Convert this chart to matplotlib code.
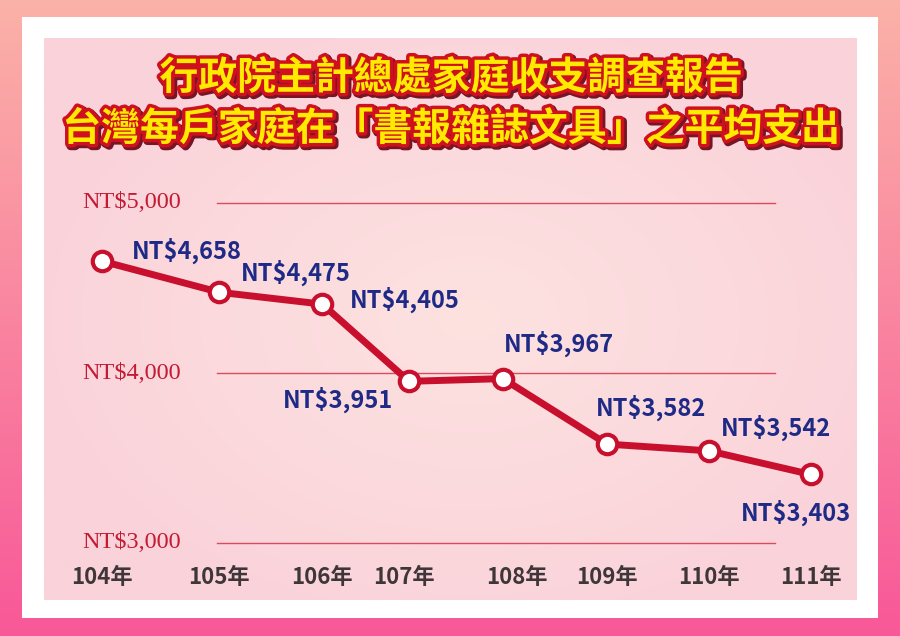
import numpy as np
import matplotlib
matplotlib.use("Agg")
import matplotlib.pyplot as plt
from matplotlib.patches import Rectangle
import matplotlib.patheffects as pe
from matplotlib.transforms import blended_transform_factory

# ---------------- data ----------------
years = ["104年", "105年", "106年", "107年", "108年", "109年", "110年", "111年"]
x_slots = [0.0, 1.15, 2.16, 3.01, 3.93, 4.95, 5.95, 6.95]   # uneven category spacing as in the source
values = [4658, 4475, 4405, 3951, 3967, 3582, 3542, 3403]
value_labels = ["NT$4,658", "NT$4,475", "NT$4,405", "NT$3,951",
                "NT$3,967", "NT$3,582", "NT$3,542", "NT$3,403"]
y_ticks = [3000, 4000, 5000]
y_tick_labels = ["NT$3,000", "NT$4,000", "NT$5,000"]
title_lines = ["行政院主計總處家庭收支調查報告",
               "台灣每戶家庭在「書報雜誌文具」之平均支出"]

# label placement (pixels offset from point, alignment)
label_offsets = [(30, 2, "left"), (22, 12, "left"), (28, -4, "left"), (-16, -26, "right"),
                 (1, 27, "left"), (-11, 28, "left"), (12, 15, "left"), (40, -46, "right")]
year_nudge = [0, 0, 0, -5, 14, 0, 0, 0]

W, H = 900, 636
fig = plt.figure(figsize=(W / 100, H / 100), dpi=100)

# ---------------- background decoration ----------------
bg = fig.add_axes([0, 0, 1, 1])
bg.set_xlim(0, W)
bg.set_ylim(H, 0)
bg.axis("off")
top = np.array([251, 178, 168]) / 255
bot = np.array([248, 88, 152]) / 255
t = np.linspace(0, 1, H)[:, None, None]
grad = top * (1 - t) + bot * t
bg.imshow(grad, extent=(0, W, H, 0), aspect="auto", zorder=0)
bg.add_patch(Rectangle((22, 17), 856, 601, facecolor="white", edgecolor="none", zorder=1))
# inner panel radial gradient
px0, px1, py0, py1 = 44, 857, 38, 600
xx, yy = np.meshgrid(np.linspace(px0, px1, 300), np.linspace(py0, py1, 220))
r = np.sqrt(((xx - 470) / 480) ** 2 + ((yy - 320) / 340) ** 2)
r = np.clip(r, 0, 1)[..., None]
c_in = np.array([253, 226, 224]) / 255
c_out = np.array([250, 210, 218]) / 255
panel = c_in * (1 - r) + c_out * r
bg.imshow(panel, extent=(px0, px1, py1, py0), aspect="auto", zorder=2)

# ---------------- data axes ----------------
ax = fig.add_axes([0, 0, 1, 1], zorder=5)
ax.patch.set_alpha(0)
ax.axis("off")
unit = 102.0
x0px = 102.0
ax.set_xlim(-x0px / unit, (W - x0px) / unit)
y4000 = 373.0
scale = 0.17
ax.set_ylim(4000 - (H - y4000) / scale, 4000 + y4000 / scale)

red = "#C8102E"
for v, lab in zip(y_ticks, y_tick_labels):
    ax.axhline(v, xmin=217 / W, xmax=775 / W, color="#DC4A60", lw=1.0, zorder=1)
    ax.text(181 / W, v, lab, transform=blended_transform_factory(ax.transAxes, ax.transData),
            ha="right", va="center", fontsize=17.5, color="#C41A34",
            family=["Liberation Serif", "DejaVu Serif"])

ax.plot(x_slots, values, color=red, lw=5, zorder=3, solid_capstyle="round",
        solid_joinstyle="round")
ax.plot(x_slots, values, ls="none", marker="o", ms=14, mfc="white", mec=red, mew=3,
        zorder=4)

cjk = ["Noto Sans CJK TC", "DejaVu Sans"]
for xv, v, lab, (dx, dy, ha) in zip(x_slots, values, value_labels, label_offsets):
    ax.annotate(lab, (xv, v), xytext=(dx, dy), textcoords="offset pixels",
                ha=ha, va="baseline", fontsize=17, fontweight="heavy",
                color="#1E2A86", family=cjk, zorder=6)

xt = blended_transform_factory(ax.transData, ax.transAxes)
for xv, yr, nd in zip(x_slots, years, year_nudge):
    ax.annotate(yr, (xv, 1 - 577 / H), xycoords=xt, xytext=(nd, 0),
                textcoords="offset pixels", ha="center", va="center",
                fontsize=16, fontweight="heavy", color="#3E3638", family=cjk)

# ---------------- title ----------------
for line, yc, fs in zip(title_lines, [78, 129], [28, 28]):
    fig.text(451 / W, 1 - yc / H, line, ha="center", va="center", fontsize=fs,
             fontweight="heavy", color="#FFEA00", family=cjk,
             path_effects=[pe.SimpleLineShadow(offset=(1.5, -1.5), shadow_color="#6A0010",
                                               alpha=0.9, linewidth=6),
                           pe.Stroke(linewidth=5, foreground="#D0101E"), pe.Normal()],
             zorder=10)

fig.savefig("out.png", dpi=100)
